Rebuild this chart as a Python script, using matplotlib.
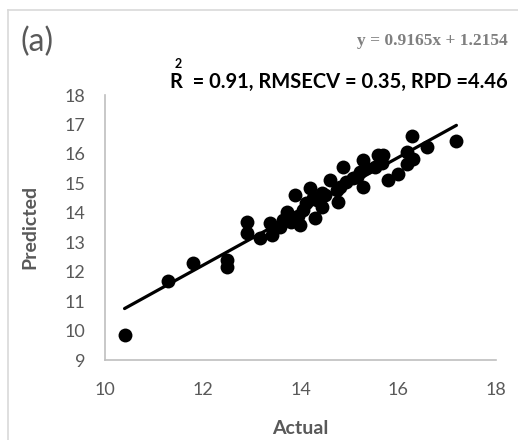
import matplotlib

matplotlib.use("Agg")
import matplotlib.pyplot as plt
from matplotlib.lines import Line2D

# Measured vs cross-validated predicted values
actual = [10.40, 11.29, 11.81, 12.49, 12.49, 12.90, 12.90, 13.17, 13.37, 13.41,
          13.58, 13.65, 13.72, 13.80, 13.89, 13.95, 13.99, 14.05, 14.12, 14.19,
          14.25, 14.29, 14.33, 14.43, 14.43, 14.50, 14.60, 14.74, 14.77, 14.81,
          14.87, 14.94, 15.08, 15.15, 15.22, 15.28, 15.28, 15.35, 15.52, 15.59,
          15.66, 15.69, 15.79, 16.00, 16.17, 16.18, 16.30, 16.29, 16.58, 17.19]
predicted = [9.85, 11.69, 12.28, 12.40, 12.17, 13.70, 13.32, 13.13, 13.64, 13.25,
             13.53, 13.75, 14.04, 13.70, 14.60, 13.90, 13.59, 14.10, 14.32, 14.83,
             14.50, 13.81, 14.43, 14.21, 14.66, 14.60, 15.11, 14.77, 14.38, 14.89,
             15.57, 15.06, 15.17, 15.23, 15.40, 15.79, 14.89, 15.51, 15.55, 15.96,
             15.68, 15.96, 15.11, 15.32, 15.66, 16.08, 15.82, 16.61, 16.25, 16.45]

slope, intercept = 0.9165, 1.2154
r2, rmsecv, rpd = 0.91, 0.35, 4.46

x_ticks = [10, 12, 14, 16, 18]
y_ticks = list(range(9, 19))

W, H = 518, 440
GRAY = "#595959"
AXIS_GRAY = "#bfbfbf"

fig = plt.figure(figsize=(W / 100, H / 100), dpi=100)
ax = fig.add_axes([105 / W, 1 - 360 / H, 391 / W, 265 / H])

ax.scatter(actual, predicted, s=100, color="black", zorder=3, linewidths=0)
x0, x1 = min(actual), max(actual)
ax.plot([x0, x1], [slope * x0 + intercept, slope * x1 + intercept],
        color="black", linewidth=2.3, solid_capstyle="round", zorder=2)

ax.set_xlim(10, 18)
ax.set_ylim(9, 18)
ax.set_xticks(x_ticks)
ax.set_yticks(y_ticks)
ax.tick_params(length=0, labelsize=13, labelcolor=GRAY)
ax.tick_params(axis="x", pad=16)
ax.tick_params(axis="y", pad=14)
for lab in ax.get_xticklabels() + ax.get_yticklabels():
    lab.set_family("Lato")

for side in ("top", "right"):
    ax.spines[side].set_visible(False)
for side in ("left", "bottom"):
    ax.spines[side].set_color(AXIS_GRAY)
    ax.spines[side].set_linewidth(1.2)

ax.set_xlabel("Actual", fontsize=14, fontweight="bold", color=GRAY, family="Lato")
ax.set_ylabel("Predicted", fontsize=14, fontweight="bold", color=GRAY, family="Lato")
ax.xaxis.set_label_coords(0.5, -0.226)
ax.yaxis.set_label_coords(-0.171, 0.502)

# chart frame (top and left edges)
fig.add_artist(Line2D([8 / W, 1], [1 - 10 / H, 1 - 10 / H], color="#d9d9d9", linewidth=1.2))
fig.add_artist(Line2D([8 / W, 8 / W], [0, 1 - 10 / H], color="#d9d9d9", linewidth=1.2))

fig.text(21 / W, 1 - 42 / H, "(a)", fontsize=23, color=GRAY, family="Lato",
         ha="left", va="center")
fig.text(508 / W, 1 - 41 / H, f"y = {slope}x + {intercept}", fontsize=12.5,
         fontweight="bold", color="#7f7f7f", family="Liberation Serif",
         ha="right", va="center")
stats = fig.text(508 / W, 1 - 82 / H,
                 f"R  = {r2:.2f}, RMSECV = {rmsecv:.2f}, RPD ={rpd:.2f}",
                 fontsize=14.5, fontweight="bold", color="black", family="Lato",
                 ha="right", va="center")

# superscript 2 sits above the R
fig.canvas.draw()
bb = stats.get_window_extent()
fig.text((bb.x0 + 4) / W, 1 - 64 / H, "2", fontsize=9, fontweight="bold",
         color="black", family="Lato", ha="left", va="center")

fig.savefig("out.png", dpi=100)
